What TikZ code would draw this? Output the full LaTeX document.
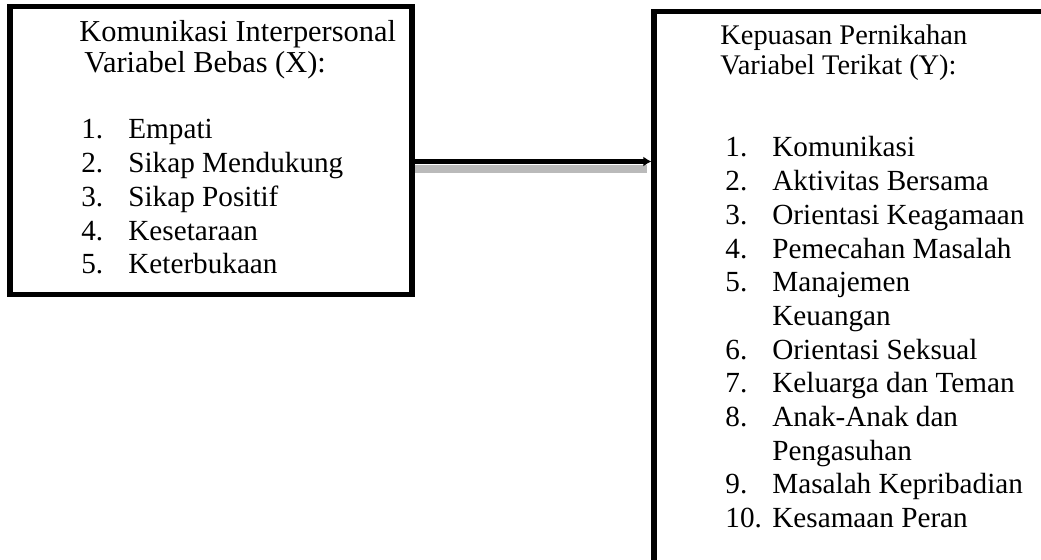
\documentclass[tikz,border=0pt]{standalone}
\usepackage{fontspec}
\setmainfont{Liberation Serif}
\usepackage{xcolor}
\usetikzlibrary{positioning,arrows.meta}

\newcommand{\itemsize}{\fontsize{14.6}{16.85}\selectfont}

\begin{document}
\begin{tikzpicture}[
  x=0.5pt, y=-0.5pt,
  varbox/.style={
    rectangle, draw=black, line width=2.6pt, inner sep=0pt
  },
  headtext/.style={
    anchor=base west, inner sep=0pt
  },
  listtext/.style={
    anchor=base west, inner sep=0pt, font=\itemsize
  },
  flow/.style={-{Latex[length=4pt,width=5pt]}, line width=2.6pt, black},
  flowshade/.style={line width=3.8pt, black!27}
]
\useasboundingbox (0,0) rectangle (1041,560);
\clip (0,0) rectangle (1041,560);

% Boxes
\node[varbox, minimum width=201pt, minimum height=144pt] (boxX) at (211,150.5) {};
\node[varbox, minimum width=250pt, minimum height=310pt] (boxY) at (904,321.5) {};

% Left box text
\node[headtext, font=\fontsize{15.2}{15}\selectfont] (headX) at (79,42) {%
  \begin{tabular}[t]{@{}l@{}}
    Komunikasi Interpersonal \\
    \hspace{2.5pt}Variabel Bebas (X):
  \end{tabular}};
\node[listtext] (listX) at (81,139) {%
  \begin{tabular}[t]{@{}p{23.5pt}@{}l@{}}
    1. & Empati \\
    2. & Sikap Mendukung \\
    3. & Sikap Positif \\
    4. & Kesetaraan \\
    5. & Keterbukaan
  \end{tabular}};

% Right box text
\node[headtext, font=\fontsize{14.2}{15}\selectfont] (headY) at (720,45) {%
  \begin{tabular}[t]{@{}l@{}}
    Kepuasan Pernikahan \\
    Variabel Terikat (Y):
  \end{tabular}};
\node[listtext] (listY) at (725,157) {%
  \begin{tabular}[t]{@{}p{23.5pt}@{}l@{}}
    1. & Komunikasi \\
    2. & Aktivitas Bersama \\
    3. & Orientasi Keagamaan \\
    4. & Pemecahan Masalah \\
    5. & Manajemen \\
       & Keuangan \\
    6. & Orientasi Seksual \\
    7. & Keluarga dan Teman \\
    8. & Anak-Anak dan \\
       & Pengasuhan \\
    9. & Masalah Kepribadian \\
    10. & Kesamaan Peran
  \end{tabular}};

% Connector
\coordinate (lvl) at (0,161.5);
\coordinate (shd) at (0,169);
\draw[flowshade] (boxX.east |- shd) -- ([xshift=-2pt]boxY.west |- shd);
\draw[flow] (boxX.east |- lvl) -- (boxY.west |- lvl);

\end{tikzpicture}
\end{document}
